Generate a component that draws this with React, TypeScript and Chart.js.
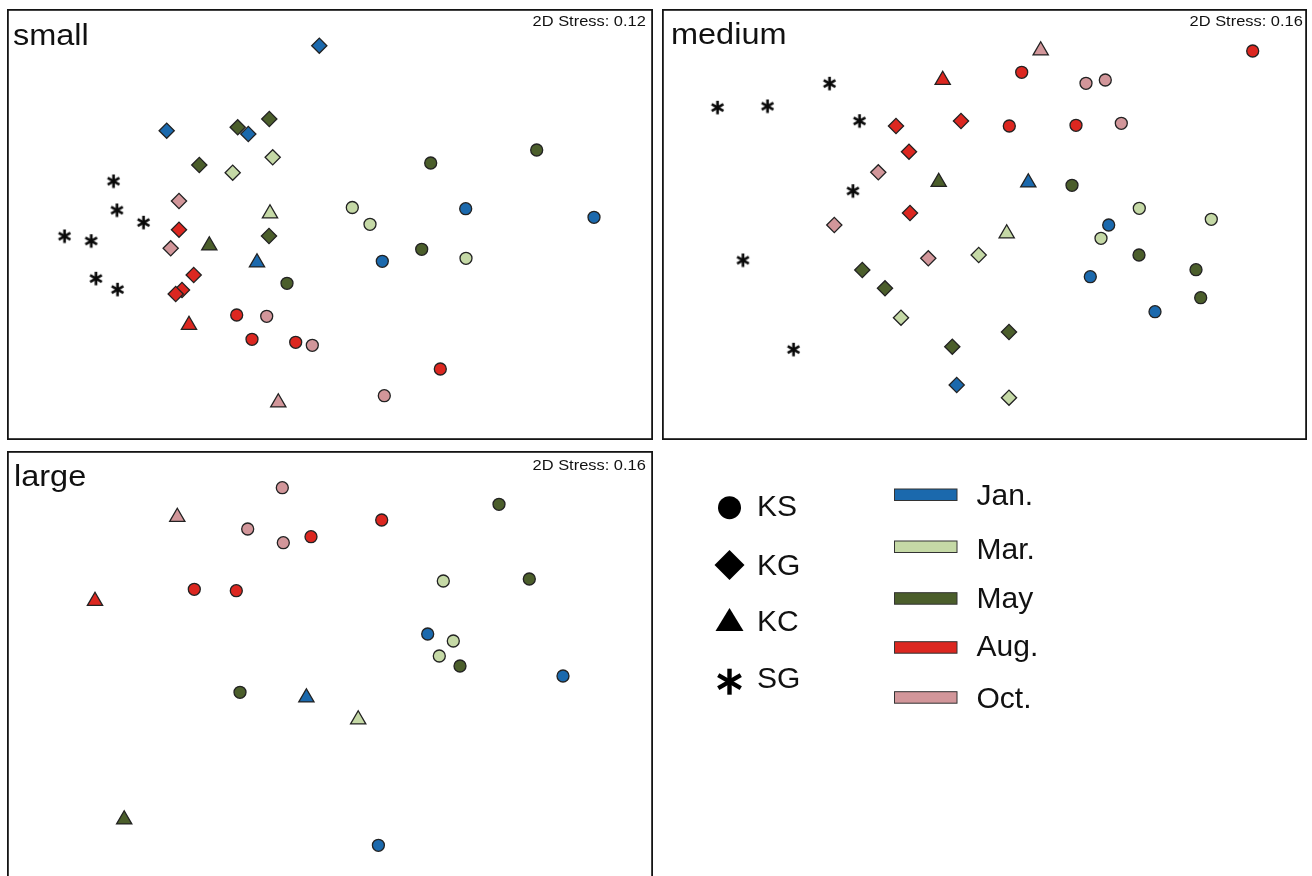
import React, { useEffect, useRef } from "react";
import { Chart, registerables } from "chart.js";

Chart.register(...registerables);

// ---------- data ----------
const MONTHS = ["Jan.", "Mar.", "May", "Aug.", "Oct."];
const MONTH_COLORS = ["#1b69ad", "#c5d9a6", "#4b5e2b", "#dc2720", "#d2969a"];
const SITES = ["KS", "KG", "KC", "SG"];
const STRESS = ["2D Stress: 0.12", "2D Stress: 0.16", "2D Stress: 0.16"];
const SIZE_CLASSES = ["small", "medium", "large"];

// [month index, ordination x, ordination y] (figure units)
type P = [number, number, number];

const smallKS: P[] = [
  [0, 465.7, 208.7], [0, 594, 217.3], [0, 382.3, 261.3],
  [1, 352.3, 207.5], [1, 370, 224.3], [1, 466, 258.3],
  [2, 430.7, 163], [2, 536.7, 150], [2, 421.7, 249.3], [2, 287, 283.3],
  [3, 236.7, 315], [3, 252, 339.3], [3, 295.7, 342.3], [3, 440.3, 369],
  [4, 266.7, 316.3], [4, 312.3, 345.3], [4, 384.3, 395.7],
];
const smallKG: P[] = [
  [0, 319.3, 45.7], [0, 166.7, 130.7], [0, 248.3, 134],
  [1, 272.7, 157.3], [1, 232.7, 172.7],
  [2, 237.7, 127.3], [2, 269.3, 119], [2, 199.3, 165], [2, 269, 236],
  [3, 179, 229.7], [3, 193.7, 275], [3, 182, 290], [3, 175.7, 294],
  [4, 179, 201], [4, 170.7, 248.3],
];
const smallKC: P[] = [
  [0, 257, 262.5], [1, 270, 213.5], [2, 209.3, 245.5], [3, 189, 325], [4, 278.3, 402.5],
];
const smallSG: P[] = [
  [0, 113.3, 181], [0, 116.7, 210], [0, 143.3, 222.3], [0, 64.3, 236],
  [0, 91, 240.7], [0, 95.7, 278.3], [0, 117.3, 289.3],
];

const mediumKS: P[] = [
  [0, 1108.7, 225], [0, 1090.3, 276.7], [0, 1155, 311.7],
  [1, 1139.3, 208.3], [1, 1211.3, 219.3], [1, 1101, 238.3],
  [2, 1072, 185.3], [2, 1139, 255], [2, 1196, 269.7], [2, 1200.7, 297.7],
  [3, 1252.7, 51], [3, 1021.7, 72.3], [3, 1009.3, 126], [3, 1076, 125.3],
  [4, 1086, 83.3], [4, 1105.3, 80], [4, 1121.3, 123.3],
];
const mediumKG: P[] = [
  [0, 956.7, 385],
  [1, 978.7, 255], [1, 901, 317.7], [1, 1009, 397.7],
  [2, 862.3, 270], [2, 885, 288.3], [2, 952.3, 346.7], [2, 1009, 332],
  [3, 896, 126], [3, 961, 121], [3, 909, 151.7], [3, 910, 213],
  [4, 878.3, 172.3], [4, 834.3, 225], [4, 928.3, 258.3],
];
const mediumKC: P[] = [
  [0, 1028.3, 182.5], [1, 1006.7, 233.5], [2, 938.7, 182], [3, 942.7, 80], [4, 1040.7, 50.5],
];
const mediumSG: P[] = [
  [0, 717.3, 107.3], [0, 767.3, 106], [0, 829.3, 83.3], [0, 859.3, 120.7],
  [0, 852.7, 190.7], [0, 742.7, 260], [0, 793.3, 349.3],
];

const largeKS: P[] = [
  [0, 427.7, 634], [0, 563, 676], [0, 378.4, 845.3],
  [1, 443.3, 581], [1, 453.3, 641], [1, 439.3, 656],
  [2, 499, 504.3], [2, 529.3, 579], [2, 460, 666], [2, 240, 692.3],
  [3, 311, 536.7], [3, 194.3, 589.3], [3, 236.3, 590.7], [3, 381.7, 520],
  [4, 282.3, 487.7], [4, 247.7, 529], [4, 283.3, 542.7],
];
const largeKG: P[] = [];
const largeKC: P[] = [
  [0, 306.4, 697.5], [1, 358.2, 719.5], [2, 124.2, 819.5], [3, 95, 601], [4, 177.3, 517],
];
const largeSG: P[] = [];

// ---------- layout / style ----------
const FONT = '"Liberation Sans", Arial, Helvetica, sans-serif';

type PanelDef = {
  left: number; top: number; width: number; height: number;
  sets: P[][];
  labelLeft: number; labelBase: number;
  stressRight: number; stressBase: number;
};

const PANELS: PanelDef[] = [
  { left: 7, top: 9, width: 646, height: 431, sets: [smallKS, smallKG, smallKC, smallSG],
    labelLeft: 12.5, labelBase: 46, stressRight: 645.5, stressBase: 26 },
  { left: 662, top: 9, width: 645, height: 431, sets: [mediumKS, mediumKG, mediumKC, mediumSG],
    labelLeft: 671, labelBase: 44.5, stressRight: 1302.5, stressBase: 26 },
  { left: 7, top: 451, width: 646, height: 431, sets: [largeKS, largeKG, largeKC, largeSG],
    labelLeft: 14, labelBase: 486.5, stressRight: 645.5, stressBase: 470 },
];

function makeAsterisk(size: number, lw: number): HTMLCanvasElement {
  const c = document.createElement("canvas");
  const s = size + 4;
  c.width = s; c.height = s;
  const ctx = c.getContext("2d")!;
  ctx.strokeStyle = "#0a0a0a";
  ctx.lineWidth = lw;
  ctx.lineCap = "butt";
  const r = size / 2;
  const cx = s / 2, cy = s / 2;
  for (let k = 0; k < 3; k++) {
    const a = Math.PI / 2 + (k * Math.PI) / 3;
    ctx.beginPath();
    ctx.moveTo(cx + Math.cos(a) * r, cy - Math.sin(a) * r);
    ctx.lineTo(cx - Math.cos(a) * r, cy + Math.sin(a) * r);
    ctx.stroke();
  }
  return c;
}

const borderPlugin = {
  id: "panelBorder",
  afterDraw(chart: any) {
    const ctx = chart.ctx;
    ctx.save();
    ctx.strokeStyle = "#141414";
    ctx.lineWidth = 1.8;
    ctx.strokeRect(0.9, 0.9, chart.width - 1.8, chart.height - 1.8);
    ctx.restore();
  },
};

function Panel({ def, index }: { def: PanelDef; index: number }) {
  const ref = useRef<HTMLCanvasElement>(null);
  useEffect(() => {
    const star = makeAsterisk(13.5, 2.7);
    const datasets: any[] = [];
    def.sets.forEach((pts, si) => {
      MONTHS.forEach((m, mi) => {
        const sel = pts.filter((p) => p[0] === mi);
        if (!sel.length) return;
        const site = SITES[si];
        const base: any = {
          label: `${site} ${m}`,
          data: sel.map((p) => ({ x: p[1], y: p[2] })),
          showLine: false,
          clip: false,
        };
        if (site === "SG") {
          base.pointStyle = star;
          base.pointRadius = 7;
          base.backgroundColor = "#111";
          base.borderColor = "#111";
          base.borderWidth = 0;
        } else {
          base.pointStyle = site === "KS" ? "circle" : site === "KG" ? "rectRot" : "triangle";
          base.pointRadius = site === "KS" ? 6 : site === "KG" ? 7.6 : 8.8;
          base.backgroundColor = MONTH_COLORS[mi];
          base.borderColor = "#222";
          base.borderWidth = 1.3;
        }
        datasets.push(base);
      });
    });
    const chart = new Chart(ref.current!, {
      type: "scatter",
      data: { datasets },
      options: {
        responsive: false,
        animation: false,
        events: [],
        layout: { padding: 0, autoPadding: false },
        plugins: { legend: { display: false }, tooltip: { enabled: false } },
        scales: {
          x: { type: "linear", min: def.left, max: def.left + def.width, display: false },
          y: { type: "linear", min: def.top, max: def.top + def.height, reverse: true, display: false },
        },
      } as any,
      plugins: [borderPlugin],
    });
    return () => chart.destroy();
  }, [def]);

  const labelFs = 29;
  const stressFs = 15.5;
  return (
    <>
      <canvas
        ref={ref}
        width={def.width}
        height={def.height}
        style={{ position: "absolute", left: def.left, top: def.top, width: def.width, height: def.height }}
      />
      <div
        style={{
          position: "absolute", left: def.labelLeft, top: def.labelBase - 0.8465 * labelFs,
          fontFamily: FONT, fontSize: labelFs, lineHeight: 1, color: "#111", whiteSpace: "nowrap",
          transform: "scaleX(1.12)", transformOrigin: "left top",
        }}
      >
        {SIZE_CLASSES[index]}
      </div>
      <div
        style={{
          position: "absolute", right: 1312 - def.stressRight, top: def.stressBase - 0.8465 * stressFs,
          fontFamily: FONT, fontSize: stressFs, lineHeight: 1, color: "#111", whiteSpace: "nowrap",
          transform: "scaleX(1.06)", transformOrigin: "right top",
        }}
      >
        {STRESS[index]}
      </div>
    </>
  );
}

function Txt({ x, base, text, fs }: { x: number; base: number; text: string; fs: number }) {
  return (
    <div
      style={{
        position: "absolute", left: x, top: base - 0.8465 * fs, fontFamily: FONT, fontSize: fs,
        lineHeight: 1, color: "#111", whiteSpace: "nowrap",
      }}
    >
      {text}
    </div>
  );
}

function Legend() {
  const cx = 729.5;
  const siteY = [507.7, 565, 620, 681.7];
  const siteBase = [516.7, 575, 631, 688.3];
  const barTop = [489, 541, 592.7, 641.7, 691.7];
  const monthBase = [505.7, 559, 608.3, 656.7, 708.3];
  const r = 13;
  return (
    <>
      <svg width={1312} height={876} style={{ position: "absolute", left: 0, top: 0 }}>
        <circle cx={cx} cy={siteY[0]} r={11.5} fill="#000" />
        <polygon
          points={`${cx},${siteY[1] - 15} ${cx + 15},${siteY[1]} ${cx},${siteY[1] + 15} ${cx - 15},${siteY[1]}`}
          fill="#000"
        />
        <polygon
          points={`${cx},${siteY[2] - 12} ${cx + 14},${siteY[2] + 11} ${cx - 14},${siteY[2] + 11}`}
          fill="#000"
        />
        {[0, 1, 2].map((k) => {
          const a = Math.PI / 2 + (k * Math.PI) / 3;
          return (
            <line
              key={k}
              x1={cx + Math.cos(a) * r} y1={siteY[3] - Math.sin(a) * r}
              x2={cx - Math.cos(a) * r} y2={siteY[3] + Math.sin(a) * r}
              stroke="#000" strokeWidth={4.4}
            />
          );
        })}
        {MONTHS.map((m, i) => (
          <rect key={m} x={894.5} y={barTop[i]} width={62.5} height={11.5}
            fill={MONTH_COLORS[i]} stroke="#333" strokeWidth={1} />
        ))}
      </svg>
      {SITES.map((s, i) => (
        <Txt key={s} x={757} base={siteBase[i]} text={s} fs={30} />
      ))}
      {MONTHS.map((m, i) => (
        <Txt key={m} x={976.5} base={monthBase[i]} text={m} fs={30} />
      ))}
    </>
  );
}

export default function App() {
  return (
    <div
      style={{
        position: "absolute", left: 0, top: 0, width: 1312, height: 876,
        overflow: "hidden", background: "#fff",
      }}
    >
      {PANELS.map((p, i) => (
        <Panel key={i} def={p} index={i} />
      ))}
      <Legend />
    </div>
  );
}
